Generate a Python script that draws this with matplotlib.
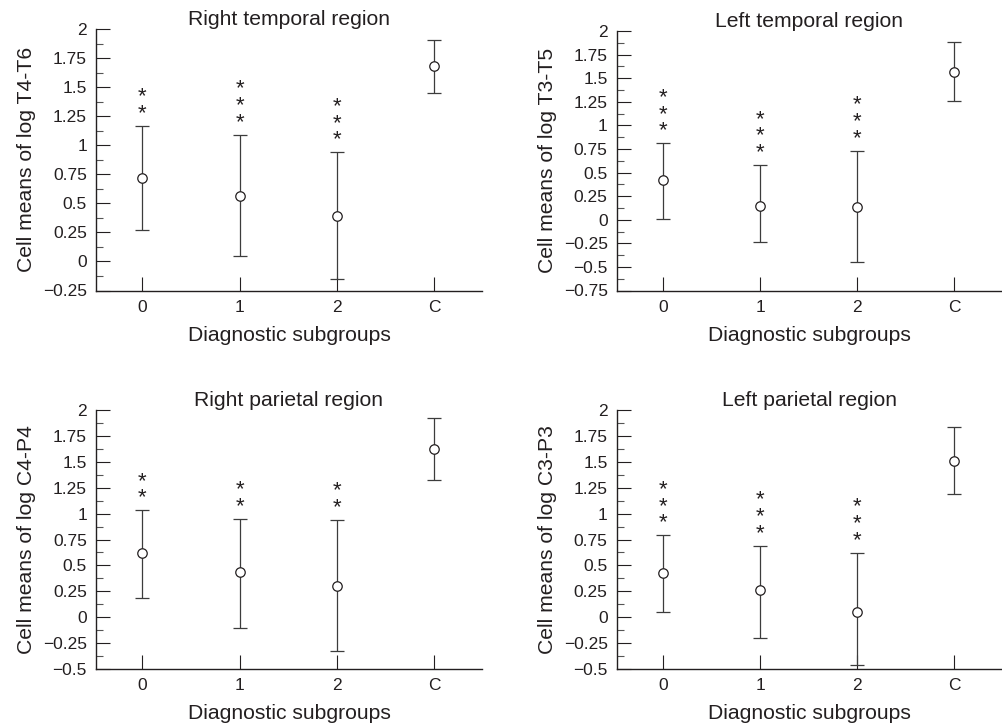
import matplotlib
matplotlib.use("Agg")
import matplotlib.pyplot as plt
from matplotlib.ticker import MultipleLocator, FuncFormatter
from matplotlib.font_manager import FontProperties

plt.rcParams['font.family'] = ['Liberation Sans', 'DejaVu Sans']

# ---- data ----
groups = ['0', '1', '2', 'C']

rt_mean = [0.72, 0.56, 0.39, 1.68]
rt_upper = [1.17, 1.09, 0.94, 1.91]
rt_lower = [0.27, 0.05, -0.15, 1.45]
rt_stars = [2, 3, 3, 0]

lt_mean = [0.42, 0.15, 0.13, 1.57]
lt_upper = [0.81, 0.58, 0.73, 1.88]
lt_lower = [0.01, -0.24, -0.45, 1.26]
lt_stars = [3, 3, 3, 0]

rp_mean = [0.62, 0.44, 0.30, 1.62]
rp_upper = [1.03, 0.95, 0.94, 1.92]
rp_lower = [0.19, -0.10, -0.33, 1.32]
rp_stars = [2, 2, 2, 0]

lp_mean = [0.43, 0.26, 0.05, 1.51]
lp_upper = [0.79, 0.69, 0.62, 1.84]
lp_lower = [0.05, -0.20, -0.46, 1.19]
lp_stars = [3, 3, 3, 0]

titles = ['Right temporal region', 'Left temporal region',
          'Right parietal region', 'Left parietal region']
ylabels = ['Cell means of log T4-T6', 'Cell means of log T3-T5',
           'Cell means of log C4-P4', 'Cell means of log C3-P3']
ylims = [(-0.25, 2), (-0.75, 2), (-0.5, 2), (-0.5, 2)]
xlabel = 'Diagnostic subgroups'

panels = [
    (rt_mean, rt_upper, rt_lower, rt_stars),
    (lt_mean, lt_upper, lt_lower, lt_stars),
    (rp_mean, rp_upper, rp_lower, rp_stars),
    (lp_mean, lp_upper, lp_lower, lp_stars),
]

# ---- layout ----
W, H = 1003, 723
DPI = 100
fig = plt.figure(figsize=(W / DPI, H / DPI), dpi=DPI)
rects_px = [
    (96, 29.3, 482, 290.5),
    (616.7, 31, 1002, 290.5),
    (96, 410, 482, 669),
    (616.7, 410, 1002, 669),
]

TXT = '#231f20'
LINE = '#3c3c3c'
STAR_FS = 16

# star text metrics -> line spacing so stacked stars sit ~16.7 px apart
renderer = fig.canvas.get_renderer()
fp = FontProperties(family=['Liberation Sans', 'DejaVu Sans'], size=STAR_FS)
_, lp_h, lp_d = renderer.get_text_width_height_descent('lp', fp, ismath=False)
star_step_px = 16.7
star_ls = (star_step_px - lp_d) / (lp_h - lp_d)
star_base_px = 6.9  # baseline of lowest star above the upper cap
star_off_pt = (star_base_px - lp_d) * 72 / DPI


def fmt(v, pos):
    s = '{:g}'.format(round(v, 3))
    return s.replace('-', '\u2212')


for i, (mean, upper, lower, stars) in enumerate(panels):
    l, t, r, b = rects_px[i]
    ax = fig.add_axes([l / W, 1 - b / H, (r - l) / W, (b - t) / H])
    x = list(range(len(groups)))
    yerr = [[m - lo for m, lo in zip(mean, lower)],
            [u - m for m, u in zip(mean, upper)]]
    ax.errorbar(x, mean, yerr=yerr, fmt='none', ecolor=LINE, elinewidth=0.9,
                capsize=5, capthick=0.9, zorder=2)
    ax.plot(x, mean, 'o', ms=6.8, mfc='white', mec=TXT, mew=0.9, zorder=3,
            linestyle='none')
    for xi, u, n in zip(x, upper, stars):
        if n > 0:
            ax.annotate('\n'.join(['*'] * n), xy=(xi, u),
                        xytext=(0, star_off_pt), textcoords='offset points',
                        ha='center', va='bottom', multialignment='center',
                        linespacing=star_ls, fontsize=STAR_FS, color=TXT,
                        fontproperties=None, annotation_clip=False)
    ax.set_xlim(-0.475, 3.49)
    ax.set_ylim(*ylims[i])
    ax.set_xticks(x)
    ax.set_xticklabels(groups)
    ax.yaxis.set_major_locator(MultipleLocator(0.25))
    ax.yaxis.set_minor_locator(MultipleLocator(0.125))
    ax.yaxis.set_major_formatter(FuncFormatter(fmt))
    ax.tick_params(axis='y', which='major', direction='in', length=10,
                   width=0.8, color=TXT, labelsize=12.5, pad=6.5,
                   labelcolor=TXT)
    ax.tick_params(axis='y', which='minor', direction='in', length=5,
                   width=0.8, color='#555555')
    ax.tick_params(axis='x', which='major', direction='in', length=10,
                   width=0.8, color=TXT, labelsize=12.5, pad=6.5,
                   labelcolor=TXT)
    for s in ['top', 'right']:
        ax.spines[s].set_visible(False)
    for s in ['left', 'bottom']:
        ax.spines[s].set_linewidth(1.0)
        ax.spines[s].set_color(TXT)
    ax.set_title(titles[i], fontsize=15.2, color=TXT, pad=3)
    ax.set_ylabel(ylabels[i], fontsize=15.2, color=TXT, labelpad=5)
    ax.set_xlabel(xlabel, fontsize=15.2, color=TXT, labelpad=8)
    ax.patch.set_visible(False)

fig.savefig('out.png', dpi=DPI)
